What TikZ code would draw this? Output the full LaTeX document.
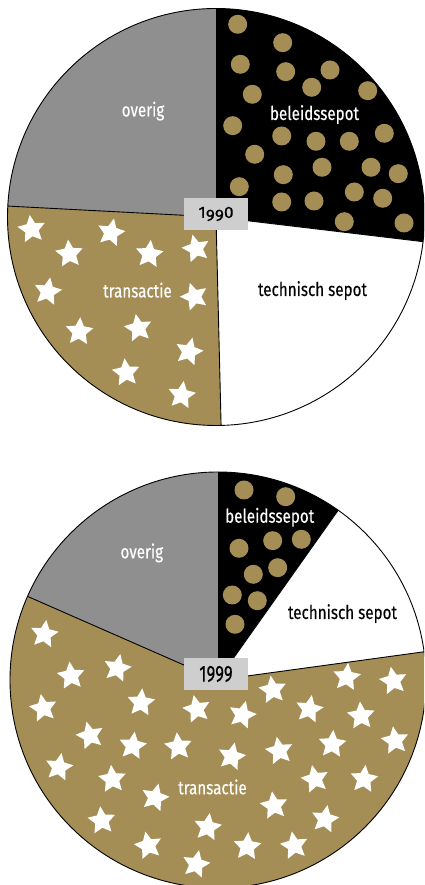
\documentclass[tikz,border=0pt]{standalone}
\usepackage{fontspec}
\setmainfont{Fira Sans}[FakeStretch=0.8,FakeBold=0.25]
\newfontfamily\linnum{Fira Sans}[FakeStretch=0.72,FakeBold=0.25]
\usetikzlibrary{shapes.geometric}
\definecolor{gold}{RGB}{164,142,86}
\definecolor{pgray}{RGB}{143,143,143}
\definecolor{boxgray}{RGB}{206,206,206}
\newcommand\osnine{\raisebox{-4.3pt}{9}}
\newcommand\oldyear{\scalebox{1}[0.68]{1\osnine\osnine0}}
\tikzset{
  edge/.style={draw=black,line width=0.9pt},
  dot/.style={fill=gold},
  wstar/.style={star,star points=5,star point ratio=2.05,minimum size=29pt,inner sep=0pt,fill=white,draw=none},
  lab/.style={font=\fontsize{19}{21}\selectfont,anchor=base,inner sep=0pt},
  yearbox/.style={fill=boxgray,minimum width=64pt,minimum height=32pt,inner sep=0pt,text=black},
  img/.style={shift={(0,885)},yscale=-1}
}
\begin{document}
\begin{tikzpicture}[x=1pt,y=1pt]
\useasboundingbox (0,0) rectangle (424,885);
\clip (0,0) rectangle (424,885);
\fill[white] (0,0) rectangle (424,885);
% ================= 1990 =================
\coordinate (c1) at (216,668);
\def\rA{208.5}
\fill[pgray] (c1) -- ++(90:\rA) arc[start angle=90,end angle=177,radius=\rA] -- cycle;
\fill[black] (c1) -- ++(-6.8:\rA) arc[start angle=-6.8,end angle=90,radius=\rA] -- cycle;
\fill[white] (c1) -- ++(-88.6:\rA) arc[start angle=-88.6,end angle=-6.8,radius=\rA] -- cycle;
\fill[gold] (c1) -- ++(177:\rA) arc[start angle=177,end angle=271.4,radius=\rA] -- cycle;
% dots
\begin{scope}
\clip (c1) -- ++(-6.8:\rA) arc[start angle=-6.8,end angle=90,radius=\rA] -- cycle;
\begin{scope}[img]
\foreach \x/\y in {237.7/24.3,282.7/42.7,240.3/64.3,285.7/71.7,330/70,311.7/87.3,252.3/94.3,367.7/90.7,232.7/125.7,281.7/136,316/141.3,349.3/141.3,384.3/133.3,254.7/154.3,283.3/174.7,322/167.3,371/167.3,398.3/173.7,239.3/186.7,281.7/202,314/201,354.3/192,382.7/198.3,344.3/221.7,404/223}
  \fill[dot] (\x,\y) circle[radius=9.5];
\end{scope}
\end{scope}
% stars
\begin{scope}
\clip (c1) -- ++(177:\rA) arc[start angle=177,end angle=271.4,radius=\rA] -- cycle;
\begin{scope}[img]
\foreach \x/\y/\r [count=\i] in {31.7/229.3/8,111/232.7/-12,69.3/254/5,149.3/254.3/-6,196/248.7/14,47.7/291.7/-10,194.3/296.7/18,79.3/331.7/-4,138.3/328.3/10,189/351.7/-14,126/372.7/6,181.7/395.3/-8}
  \node[wstar,rotate=\r] (sa\i) at (\x,\y) {};
\end{scope}
\end{scope}
% edges
\draw[edge] (c1) -- ++(177:\rA);
\draw[edge] (c1) -- ++(-88.6:\rA);
\draw[edge] (c1) -- ++(-6.8:\rA);
\draw[edge] (c1) circle[radius=\rA];
% labels
\begin{scope}[img]
\node[lab,text=white] (ov1) at (143,116.5) {overig};
\node[lab,text=white] (bs1) at (314.5,120) {beleidssepot};
\node[lab,text=black] (ts1) at (312.5,296) {technisch sepot};
\node[lab,text=white] (tr1) at (137.5,297.5) {transactie};
\node[yearbox,font=\linnum\fontsize{24}{26}\selectfont] (y1) at (216,214) {\oldyear};
\end{scope}
% ================= 1999 =================
\coordinate (c2) at (218,205);
\def\rB{208}
\fill[pgray] (c2) -- ++(90:\rB) arc[start angle=90,end angle=156.3,radius=\rB] -- cycle;
\fill[black] (c2) -- ++(54.7:\rB) arc[start angle=54.7,end angle=90,radius=\rB] -- cycle;
\fill[white] (c2) -- ++(7.8:\rB) arc[start angle=7.8,end angle=54.7,radius=\rB] -- cycle;
\fill[gold] (c2) -- ++(156.3:\rB) arc[start angle=156.3,end angle=367.8,radius=\rB] -- cycle;
\begin{scope}
\clip (c2) -- ++(54.7:\rB) arc[start angle=54.7,end angle=90,radius=\rB] -- cycle;
\begin{scope}[img]
\foreach \x/\y in {244/490,285.7/496.7,239/548.3,272.7/540.7,301.3/539.3,253.3/574.3,277.7/567.7,232.3/595,257.3/600.7,235/624.3}
  \fill[dot] (\x,\y) circle[radius=9.5];
\end{scope}
\end{scope}
\begin{scope}
\clip (c2) -- ++(156.3:\rB) arc[start angle=156.3,end angle=367.8,radius=\rB] -- cycle;
\begin{scope}[img]
\foreach \x/\y/\r [count=\i] in {44.3/634.3/-8,71/676/6,117.3/668.3/-12,43.3/708.3/10,141/702.7/-5,196.7/709.3/12,242.3/715/-14,272.7/690/8,346.7/677.3/-6,393.3/681/10,309.3/709.3/-10,361/716/4,90/735.7/14,132.7/746/-8,178.3/746.7/6,231.7/756.7/-12,279.3/751/10,332.3/744.3/-4,395/740.7/8,59/767.3/-10,112.3/779.3/5,155/797.7/-14,315/779.3/12,364/779.3/-6,274/805.7/8,325/819.3/-10,101.7/820.7/6,207.7/827.3/-8,148.3/845.7/12,247.3/846.7/-4,294.3/845.7/10,196/864.3/-12}
  \node[wstar,rotate=\r] (sb\i) at (\x,\y) {};
\end{scope}
\end{scope}
\draw[edge] (c2) -- ++(156.3:\rB);
\draw[edge] (c2) -- ++(7.8:\rB);
\draw[edge] (c2) -- ++(54.7:\rB);
\draw[edge] (c2) circle[radius=\rB];
\begin{scope}[img]
\node[lab,text=white] (ov2) at (141.8,558.3) {overig};
\node[lab,text=white] (bs2) at (269.7,522.7) {beleidssepot};
\node[lab,text=black] (ts2) at (342.5,619) {technisch sepot};
\node[lab,text=white] (tr2) at (212.5,794.3) {transactie};
\node[yearbox,font=\linnum\fontsize{23}{25}\selectfont] (y2) at (216,674) {1999};
\end{scope}
\end{tikzpicture}
\end{document}
